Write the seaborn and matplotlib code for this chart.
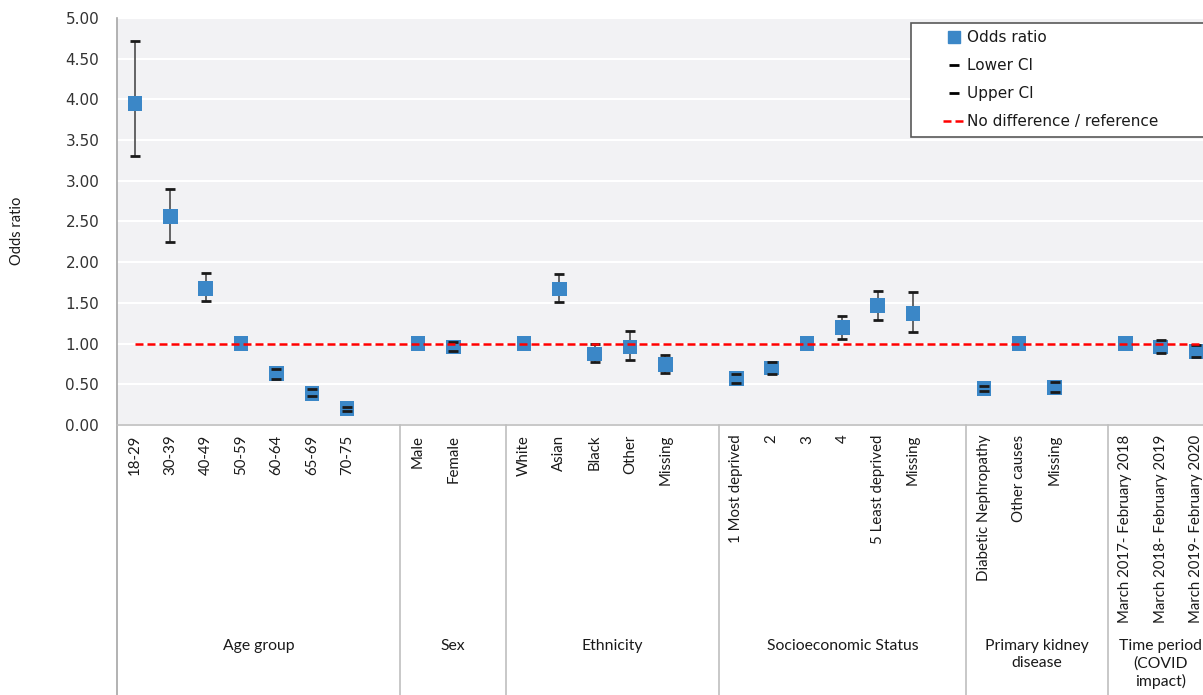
import numpy as np
import pandas as pd
import matplotlib.pyplot as plt
from matplotlib.lines import Line2D
from matplotlib.patches import Rectangle
import seaborn as sns

# data
group_names = ['Age group', 'Sex', 'Ethnicity', 'Socioeconomic Status',
               'Primary kidney\ndisease', 'Time period\n(COVID\nimpact)']

age_labels = ['18-29', '30-39', '40-49', '50-59', '60-64', '65-69', '70-75']
age_or = [3.95, 2.56, 1.68, 1.00, 0.63, 0.39, 0.20]
age_lo = [3.30, 2.25, 1.52, np.nan, 0.57, 0.36, 0.17]
age_hi = [4.72, 2.90, 1.87, np.nan, 0.69, 0.44, 0.22]

sex_labels = ['Male', 'Female']
sex_or = [1.00, 0.96]
sex_lo = [np.nan, 0.91]
sex_hi = [np.nan, 1.02]

eth_labels = ['White', 'Asian', 'Black', 'Other', 'Missing']
eth_or = [1.00, 1.67, 0.87, 0.96, 0.74]
eth_lo = [np.nan, 1.51, 0.78, 0.80, 0.64]
eth_hi = [np.nan, 1.86, 1.00, 1.16, 0.86]

ses_labels = ['1 Most deprived', '2', '3', '4', '5 Least deprived', 'Missing']
ses_or = [0.57, 0.70, 1.00, 1.20, 1.47, 1.37]
ses_lo = [0.51, 0.63, np.nan, 1.06, 1.29, 1.14]
ses_hi = [0.63, 0.77, np.nan, 1.34, 1.65, 1.63]

pkd_labels = ['Diabetic Nephropathy', 'Other causes', 'Missing']
pkd_or = [0.45, 1.00, 0.46]
pkd_lo = [0.42, np.nan, 0.40]
pkd_hi = [0.48, np.nan, 0.53]

time_labels = ['March 2017- February 2018', 'March 2018- February 2019',
               'March 2019- February 2020']
time_or = [1.00, 0.96, 0.90]
time_lo = [np.nan, 0.89, 0.84]
time_hi = [np.nan, 1.04, 0.98]

all_labels = [age_labels, sex_labels, eth_labels, ses_labels, pkd_labels, time_labels]
all_or = [age_or, sex_or, eth_or, ses_or, pkd_or, time_or]
all_lo = [age_lo, sex_lo, eth_lo, ses_lo, pkd_lo, time_lo]
all_hi = [age_hi, sex_hi, eth_hi, ses_hi, pkd_hi, time_hi]

# build table, one empty slot after every group except the last
rows = []
spans = []
slot = 0
for g, name in enumerate(group_names):
    start = slot - 0.5
    for lab, o, lo, hi in zip(all_labels[g], all_or[g], all_lo[g], all_hi[g]):
        rows.append(dict(group=name, label=lab, pos=slot, odds=o, lower=lo, upper=hi))
        slot += 1
    if g < len(group_names) - 1:
        slot += 1
    spans.append((start, slot - 0.5))
df = pd.DataFrame(rows)

blue = '#3B87C7'
font_lab = 'Lato'

fig = plt.figure(figsize=(12.03, 6.95), dpi=100)
ax = fig.add_axes([0.0975, 0.3885, 0.9114, 0.5856])
ax.set_facecolor('#F2F2F4')

# error bars (behind markers), markers, caps on top
ax.vlines(df['pos'], df['lower'], df['upper'], color='#595959', lw=1.3, zorder=2)
sns.scatterplot(data=df, x='pos', y='odds', marker='s', s=110, color=blue,
                edgecolor='none', ax=ax, zorder=3, legend=False)
sns.scatterplot(data=df, x='pos', y='lower', marker='_', s=60, color='#1a1a1a',
                linewidth=2, ax=ax, zorder=4, legend=False)
sns.scatterplot(data=df, x='pos', y='upper', marker='_', s=60, color='#1a1a1a',
                linewidth=2, ax=ax, zorder=4, legend=False)

# reference line
ax.plot([df['pos'].min(), df['pos'].max() + 0.5], [1, 1], color='#FF0000', lw=1.8,
        ls=(0, (3.2, 1.6)), zorder=5)

ax.set_xlim(-0.5, spans[-1][1])
ax.set_ylim(0, 5)
ax.set_yticks(np.arange(0, 5.01, 0.5))
ax.set_yticklabels([f'{v:.2f}' for v in np.arange(0, 5.01, 0.5)], fontsize=11,
                   color='#333333')
ax.tick_params(axis='y', length=0, pad=13)
ax.grid(axis='y', color='white', lw=1.5)
ax.set_axisbelow(True)
ax.set_xlabel('')
ax.set_ylabel('')

ax.set_xticks(df['pos'])
ax.set_xticklabels(df['label'], rotation=90, fontsize=10.8, family=font_lab,
                   va='top', color='#1a1a1a')
ax.tick_params(axis='x', length=0, pad=7)

for s in ['top', 'right']:
    ax.spines[s].set_visible(False)
ax.spines['bottom'].set_color('#BFBFBF')
ax.spines['left'].set_color('#A6A6A6')
ax.spines['bottom'].set_linewidth(1.2)
ax.spines['left'].set_linewidth(1.2)

# multi-level axis: separators and group names
trans = ax.get_xaxis_transform()
bottom = -(695 - 425) / 407
ax.plot([-0.5, -0.5], [0, bottom], color='#A6A6A6', lw=1.2, transform=trans, clip_on=False)
for (start, end), name in zip(spans, group_names):
    if end < spans[-1][1]:
        ax.plot([end, end], [0, bottom], color='#BFBFBF', lw=1.2,
                transform=trans, clip_on=False)
    ax.text((start + end) / 2, -0.525, name, transform=trans, ha='center', va='top',
            fontsize=11.3, family=font_lab, color='#1a1a1a', linespacing=1.3)

fig.text(17 / 1203, (695 - 231) / 695, 'Odds ratio', rotation=90, ha='center',
         va='center', fontsize=10.5, family=font_lab, color='#1a1a1a')

# legend
box = Rectangle((911 / 1203, (695 - 137) / 695), 300 / 1203, 114 / 695,
                transform=fig.transFigure, facecolor='white', edgecolor='#595959',
                lw=1.2, zorder=10)
fig.add_artist(box)
handles = [
    Line2D([], [], marker='s', color=blue, ls='none', markersize=8),
    Line2D([], [], marker='_', color='black', ls='none', markersize=7, mew=2),
    Line2D([], [], marker='_', color='black', ls='none', markersize=7, mew=2),
    Line2D([], [], color='#FF0000', lw=1.8, ls=(0, (3.2, 1.6))),
]
leg = fig.legend(handles, ['Odds ratio', 'Lower CI', 'Upper CI', 'No difference / reference'],
                 loc='upper left', bbox_to_anchor=(943 / 1203, (695 - 30) / 695),
                 frameon=False, fontsize=11, handlelength=1.4, handletextpad=0.2,
                 labelspacing=0.86, borderaxespad=0, borderpad=0)
leg.set_zorder(11)
for t in leg.get_texts():
    t.set_color('#1a1a1a')

fig.savefig('out.png', dpi=100)
